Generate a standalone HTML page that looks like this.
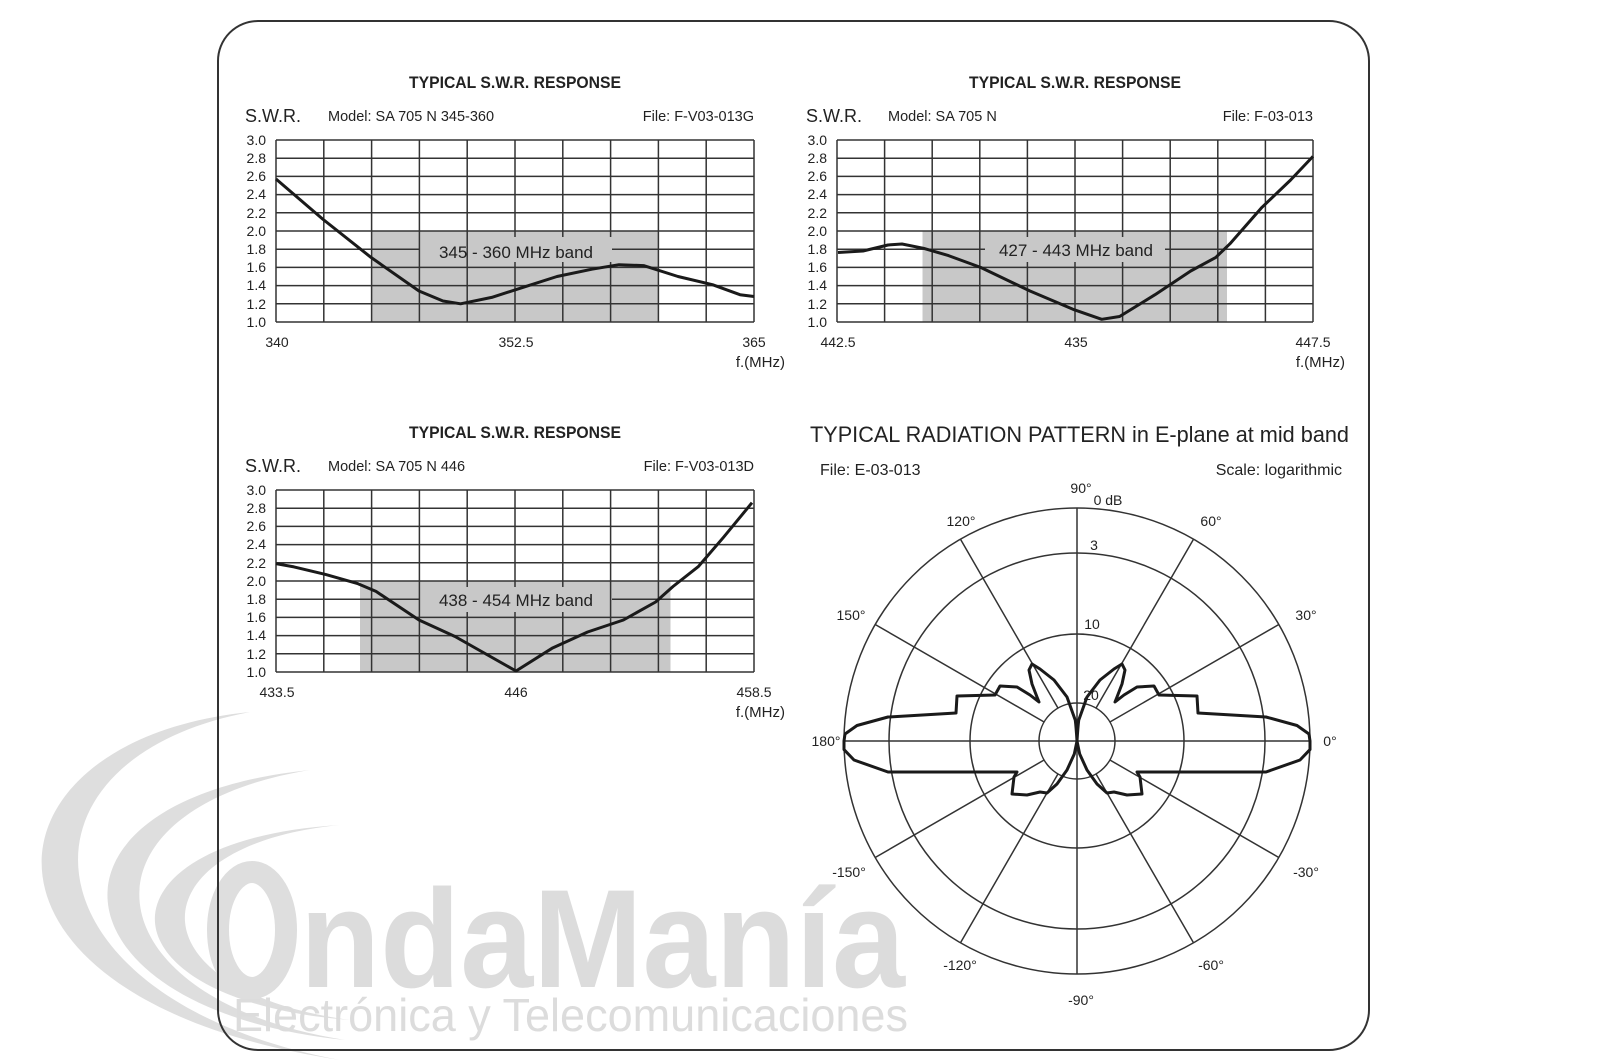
<!DOCTYPE html>
<html><head><meta charset="utf-8"><style>
html,body{margin:0;padding:0;background:#fff;}
svg{display:block;}
text{font-family:"Liberation Sans",sans-serif;fill:#222;}
</style></head><body>
<svg width="1600" height="1063" viewBox="0 0 1600 1063" xmlns="http://www.w3.org/2000/svg">
<rect width="1600" height="1063" fill="#fff"/>
<!-- watermark -->
<g fill="#dedede" stroke="none">
<path d="M250 712 C-30 740,-54 1000,340 1060 C20 1000,-3 760,250 712 Z"/>
<path d="M310 770 C20 800,50 1010,345 1040 C90 1000,65 810,310 770 Z"/>
<path d="M340 825 C90 840,93 1000,350 1020 C130 990,133 845,340 825 Z"/>
</g>
<ellipse cx="252" cy="930" rx="34" ry="58" fill="none" stroke="#dedede" stroke-width="22"/>
<rect x="218" y="21" width="1151" height="1029" rx="40" ry="40" fill="none" stroke="#333" stroke-width="2"/>
<text x="300" y="987" font-size="140" font-weight="bold" style="fill:#dcdcdc" textLength="605" lengthAdjust="spacingAndGlyphs">ndaManía</text>
<text x="233" y="1031" font-size="46" style="fill:#dcdcdc" textLength="675" lengthAdjust="spacingAndGlyphs">Electrónica y Telecomunicaciones</text>

<!-- Chart 1 -->
<g>
<text x="515" y="88" font-size="17" font-weight="bold" text-anchor="middle" textLength="212" lengthAdjust="spacingAndGlyphs">TYPICAL S.W.R. RESPONSE</text>
<text x="245" y="122" font-size="18">S.W.R.</text>
<text x="328" y="121" font-size="14.5">Model:  SA 705 N 345-360</text>
<text x="754" y="121" font-size="14.5" text-anchor="end">File:  F-V03-013G</text>
<rect x="371.6" y="231" width="286.8" height="91" fill="#c8c8c8"/>
<g stroke="#333" stroke-width="1.5" fill="none">
<path d="M276 140H754M276 158.2H754M276 176.4H754M276 194.6H754M276 212.8H754M276 231H754M276 267.4H754M276 285.6H754M276 303.8H754M276 322H754"/>
<path d="M276 249.2H420M612 249.2H754"/>
<path d="M276 140V322M323.8 140V322M371.6 140V322M419.4 140V322M467.2 140V322M515 140V237M515 262V322M562.8 140V237M562.8 262V322M610.6 140V237M610.6 262V322M658.4 140V322M706.2 140V322M754 140V322"/>
</g>
<text x="516" y="258" font-size="17" text-anchor="middle" fill="#333">345 - 360 MHz band</text>
<polyline fill="none" stroke="#1a1a1a" stroke-width="3" stroke-linejoin="round" points="276,179 322.6,219 371,257.4 419,291 443,301 460.6,303.8 491.7,297.4 522.8,287.4 557,276.5 592,269.2 619,264.7 643.6,265.6 678,276.5 712.5,284.7 740,294.7 754,296.5"/>
<g font-size="14" text-anchor="end">
<text x="266" y="145">3.0</text><text x="266" y="163">2.8</text><text x="266" y="181">2.6</text><text x="266" y="199">2.4</text><text x="266" y="218">2.2</text><text x="266" y="236">2.0</text><text x="266" y="254">1.8</text><text x="266" y="272">1.6</text><text x="266" y="290">1.4</text><text x="266" y="309">1.2</text><text x="266" y="327">1.0</text>
</g>
<g font-size="14" text-anchor="middle"><text x="277" y="347">340</text><text x="516" y="347">352.5</text><text x="754" y="347">365</text></g>
<text x="785" y="367" font-size="15" text-anchor="end">f.(MHz)</text>
</g>

<!-- Chart 2 -->
<g>
<text x="1075" y="88" font-size="17" font-weight="bold" text-anchor="middle" textLength="212" lengthAdjust="spacingAndGlyphs">TYPICAL S.W.R. RESPONSE</text>
<text x="806" y="122" font-size="18">S.W.R.</text>
<text x="888" y="121" font-size="14.5">Model:  SA 705 N</text>
<text x="1313" y="121" font-size="14.5" text-anchor="end">File:  F-03-013</text>
<rect x="922.5" y="231" width="304.5" height="91" fill="#c8c8c8"/>
<g stroke="#333" stroke-width="1.5" fill="none">
<path d="M837 140H1313M837 158.2H1313M837 176.4H1313M837 194.6H1313M837 212.8H1313M837 231H1313M837 267.4H1313M837 285.6H1313M837 303.8H1313M837 322H1313"/>
<path d="M837 249.2H985M1165 249.2H1313"/>
<path d="M837 140V322M884.6 140V322M932.2 140V322M979.8 140V322M1027.4 140V237M1027.4 262V322M1075 140V237M1075 262V322M1122.6 140V237M1122.6 262V322M1170.2 140V322M1217.8 140V322M1265.4 140V322M1313 140V322"/>
</g>
<text x="1076" y="256" font-size="17" text-anchor="middle" fill="#333">427 - 443 MHz band</text>
<polyline fill="none" stroke="#1a1a1a" stroke-width="3" stroke-linejoin="round" points="838,252.5 863,251 888,245 902,244 923.6,248.3 948.5,255.6 980.6,267.4 1030,291 1073,309.3 1101.7,319.3 1119.6,316.5 1155,294.7 1190.7,271 1215.8,257.4 1230,243.7 1262,207.3 1290.6,180 1313,156.4"/>
<g font-size="14" text-anchor="end">
<text x="827" y="145">3.0</text><text x="827" y="163">2.8</text><text x="827" y="181">2.6</text><text x="827" y="199">2.4</text><text x="827" y="218">2.2</text><text x="827" y="236">2.0</text><text x="827" y="254">1.8</text><text x="827" y="272">1.6</text><text x="827" y="290">1.4</text><text x="827" y="309">1.2</text><text x="827" y="327">1.0</text>
</g>
<g font-size="14" text-anchor="middle"><text x="838" y="347">442.5</text><text x="1076" y="347">435</text><text x="1313" y="347">447.5</text></g>
<text x="1345" y="367" font-size="15" text-anchor="end">f.(MHz)</text>
</g>

<!-- Chart 3 -->
<g transform="translate(0,350)">
<text x="515" y="88" font-size="17" font-weight="bold" text-anchor="middle" textLength="212" lengthAdjust="spacingAndGlyphs">TYPICAL S.W.R. RESPONSE</text>
<text x="245" y="122" font-size="18">S.W.R.</text>
<text x="328" y="121" font-size="14.5">Model:  SA 705 N 446</text>
<text x="754" y="121" font-size="14.5" text-anchor="end">File:  F-V03-013D</text>
<rect x="360" y="231" width="310.5" height="91" fill="#c8c8c8"/>
<g stroke="#333" stroke-width="1.5" fill="none">
<path d="M276 140H754M276 158.2H754M276 176.4H754M276 194.6H754M276 212.8H754M276 231H754M276 267.4H754M276 285.6H754M276 303.8H754M276 322H754"/>
<path d="M276 249.2H420M612 249.2H754"/>
<path d="M276 140V322M323.8 140V322M371.6 140V322M419.4 140V322M467.2 140V237M467.2 262V322M515 140V237M515 262V322M562.8 140V237M562.8 262V322M610.6 140V322M658.4 140V322M706.2 140V322M754 140V322"/>
</g>
<text x="516" y="256" font-size="17" text-anchor="middle" fill="#333">438 - 454 MHz band</text>
<polyline fill="none" stroke="#1a1a1a" stroke-width="3" stroke-linejoin="round" transform="translate(0,-350)" points="276,563.7 294,566.9 326,574.6 358,583.7 376,591.4 419,620 455,636.5 516,671 552,648.3 587.6,632 623.4,620 655.6,602 673,586.5 698.5,566.4 723.5,537.3 752,502.7"/>
<g font-size="14" text-anchor="end">
<text x="266" y="145">3.0</text><text x="266" y="163">2.8</text><text x="266" y="181">2.6</text><text x="266" y="199">2.4</text><text x="266" y="218">2.2</text><text x="266" y="236">2.0</text><text x="266" y="254">1.8</text><text x="266" y="272">1.6</text><text x="266" y="290">1.4</text><text x="266" y="309">1.2</text><text x="266" y="327">1.0</text>
</g>
<g font-size="14" text-anchor="middle"><text x="277" y="347">433.5</text><text x="516" y="347">446</text><text x="754" y="347">458.5</text></g>
<text x="785" y="367" font-size="15" text-anchor="end">f.(MHz)</text>
</g>

<!-- Polar -->
<text x="810" y="442" font-size="22" textLength="539" lengthAdjust="spacingAndGlyphs">TYPICAL RADIATION PATTERN in E-plane at mid band</text>
<text x="820" y="475" font-size="16">File:  E-03-013</text>
<text x="1342" y="475" font-size="16" text-anchor="end">Scale: logarithmic</text>
<g transform="translate(1077,741)" fill="none" stroke="#333" stroke-width="1.5">
<circle r="233"/><circle r="188"/><circle r="107"/><circle r="38"/>
<path d="M-233 0H233M0 -233V233"/>
<path d="M32.9 -19 L201.8 -116.5 M19 -32.9 L116.5 -201.8 M-32.9 -19 L-201.8 -116.5 M-19 -32.9 L-116.5 -201.8 M32.9 19 L201.8 116.5 M19 32.9 L116.5 201.8 M-32.9 19 L-201.8 116.5 M-19 32.9 L-116.5 201.8"/>
<g id="half" stroke="#1a1a1a" stroke-width="3" stroke-linejoin="round">
<path d="M0 0 C0.5 -8 1 -15 1.7 -20.7 L10 -44 L23 -61 L37 -72 L45 -77 L48 -71 L45 -57 L40 -44 L38 -39 L47 -46 L60 -54 L77 -55 L82 -46 L120 -45 L121 -28 L189 -24 L220 -15.5 L232 -7 L233 0 L233 8.6 L223 19 L189 31 L60 31 L63 36 L65 53 L50 54 L37 51 L30 52 L20 43 L10 29 L2.7 13 Z"/>
</g>
<use href="#half" transform="scale(-1,1)"/>
</g>
<g font-size="14" text-anchor="middle">
<text x="1081" y="493">90°</text>
<text x="1108" y="505">0  dB</text>
<text x="1094" y="550">3</text>
<text x="1092" y="629">10</text>
<text x="1091" y="700">20</text>
<text x="961" y="526">120°</text>
<text x="1211" y="526">60°</text>
<text x="851" y="620">150°</text>
<text x="1306" y="620">30°</text>
<text x="826" y="746">180°</text>
<text x="1330" y="746">0°</text>
<text x="849" y="877">-150°</text>
<text x="1306" y="877">-30°</text>
<text x="960" y="970">-120°</text>
<text x="1211" y="970">-60°</text>
<text x="1081" y="1005">-90°</text>
</g>
</svg>
</body></html>
